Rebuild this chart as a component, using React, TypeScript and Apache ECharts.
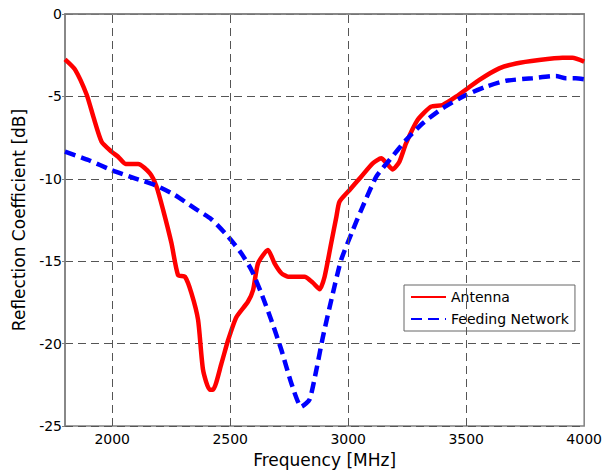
import React, { useEffect, useRef } from "react";
import * as echarts from "echarts";

const xTicks = [2000, 2500, 3000, 3500, 4000];
const xGrid = [2000, 2500, 3000, 3500];

const antenna: [number, number][] = [
  [1800, -2.75], [1842, -3.36], [1892, -4.9], [1920, -6.23], [1955, -7.75], [1997, -8.35],
  [2025, -8.66], [2057, -9.1], [2110, -9.1], [2160, -9.67], [2188, -10.48], [2216, -11.9],
  [2251, -13.9], [2279, -15.84], [2308, -15.94], [2336, -16.95], [2364, -18.57], [2385, -21.6],
  [2413, -22.8], [2427, -22.8], [2463, -21.2], [2491, -19.8], [2526, -18.4], [2575, -17.46],
  [2597, -16.75], [2618, -15.13], [2660, -14.32], [2688, -15.13], [2717, -15.73], [2745, -15.94],
  [2815, -15.94], [2850, -16.3], [2879, -16.7], [2900, -15.94], [2928, -13.9], [2950, -12.3],
  [2963, -11.39], [3006, -10.68], [3055, -9.87], [3104, -9.06], [3140, -8.76], [3163, -9.06],
  [3189, -9.43], [3217, -8.96], [3245, -7.85], [3294, -6.43], [3351, -5.62], [3400, -5.52],
  [3457, -5.02], [3556, -4.0], [3640, -3.3], [3711, -3.0], [3809, -2.79], [3908, -2.65],
  [3950, -2.65], [4000, -2.89],
];

const feeding: [number, number][] = [
  [1800, -8.35], [1899, -8.86], [1997, -9.47], [2096, -9.97], [2181, -10.38], [2265, -10.98],
  [2350, -11.8], [2420, -12.45], [2491, -13.5], [2547, -14.52], [2590, -15.53], [2632, -16.95],
  [2674, -18.57], [2717, -20.39], [2759, -22.4], [2801, -23.83], [2836, -23.4], [2865, -21.6],
  [2893, -19.58], [2935, -16.95], [2970, -14.93], [3020, -13.1], [3055, -11.9], [3119, -9.87],
  [3175, -8.86], [3245, -7.65], [3316, -6.63], [3400, -5.72], [3499, -4.92], [3584, -4.41],
  [3669, -4.05], [3781, -3.9], [3880, -3.76], [3922, -3.9], [3964, -3.9], [4000, -3.96],
];

const FONT = "DejaVu Sans";

export default function App() {
  const ref = useRef<HTMLDivElement>(null);
  useEffect(() => {
    if (!ref.current) return;
    const chart = echarts.init(ref.current, null, { renderer: "svg" });
    const gridLineStyle = { color: "#555", width: 1, type: [8, 5] as any };
    chart.setOption({
      animation: false,
      backgroundColor: "#fff",
      textStyle: { fontFamily: FONT },
      grid: { left: 65, right: 20, top: 14, bottom: 47, show: true, borderColor: "#808080", borderWidth: 1.5 },
      xAxis: {
        type: "value",
        min: 1800,
        max: 4000,
        name: "Frequency [MHz]",
        nameLocation: "middle",
        nameGap: 25,
        nameTextStyle: { fontSize: 17, color: "#000", fontFamily: FONT },
        axisLine: { show: true, lineStyle: { color: "#808080", width: 1.5 } },
        axisTick: { show: false },
        splitLine: { show: false },
        axisLabel: {
          customValues: xTicks,
          formatter: (v: number) => String(v),
          color: "#000",
          fontSize: 14,
          fontFamily: FONT,
          margin: 6,
        },
      },
      yAxis: {
        type: "value",
        min: -25,
        max: 0,
        interval: 5,
        name: "Reflection Coefficient [dB]",
        nameLocation: "middle",
        nameGap: 38,
        nameTextStyle: { fontSize: 17, color: "#000", fontFamily: FONT },
        axisLine: { show: true, lineStyle: { color: "#808080", width: 1.5 } },
        axisTick: { show: true, length: 3, lineStyle: { color: "#808080" } },
        splitLine: { show: true, lineStyle: gridLineStyle },
        axisLabel: { color: "#000", fontSize: 14, fontFamily: FONT, margin: 3 },
      },
      legend: {
        left: 404,
        top: 285,
        orient: "vertical",
        backgroundColor: "#fff",
        borderColor: "#666",
        borderWidth: 1,
        padding: [5, 6, 5, 6],
        itemWidth: 35,
        itemHeight: 14,
        itemGap: 8,
        itemStyle: { opacity: 0 },
        textStyle: { fontSize: 14, color: "#000", fontFamily: FONT },
        data: ["Antenna", "Feeding Network"],
      },
      series: [
        {
          name: "grid",
          type: "line",
          data: [],
          z: 1,
          silent: true,
          markLine: {
            silent: true,
            symbol: "none",
            label: { show: false },
            lineStyle: gridLineStyle,
            data: xGrid.map((v) => ({ xAxis: v })),
          },
        },
        {
          name: "Antenna",
          type: "line",
          data: antenna,
          showSymbol: false,
          symbol: "none",
          smooth: 0.2,
          z: 3,
          lineStyle: { color: "#ff0000", width: 4.5 },
          itemStyle: { color: "#ff0000" },
        },
        {
          name: "Feeding Network",
          type: "line",
          data: feeding,
          showSymbol: false,
          symbol: "none",
          smooth: 0.2,
          z: 4,
          lineStyle: { color: "#0000ff", width: 4.5, type: [11, 6] },
          itemStyle: { color: "#0000ff" },
        },
      ],
    });
    return () => chart.dispose();
  }, []);
  return <div ref={ref} style={{ width: 605, height: 473, position: "absolute", left: 0, top: 0 }} />;
}
